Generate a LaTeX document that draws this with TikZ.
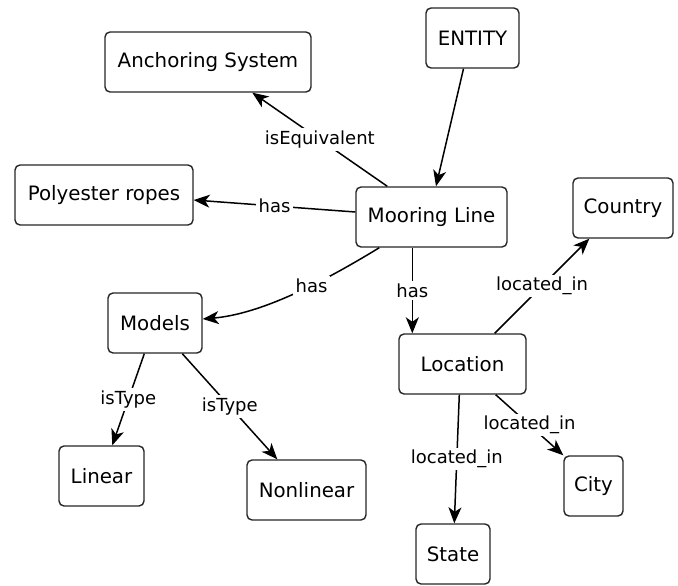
\documentclass[tikz,border=0pt]{standalone}
\usepackage{fontspec}
\setmainfont{DejaVu Sans}
\usetikzlibrary{arrows.meta}
\begin{document}
\begin{tikzpicture}[x=1pt,y=-1pt,
  box/.style={draw=black!85, line width=1.4pt, rounded corners=5pt, fill=white,
    minimum height=60pt, inner sep=0pt, font=\fontsize{19.8}{23}\selectfont},
  rel/.style={draw=black, line width=1.5pt, -{Stealth[length=16pt,width=13pt,inset=4.5pt]}},
  lab/.style={fill=white, inner sep=2.5pt, font=\fontsize{18}{21}\selectfont}]
\useasboundingbox (0,0) rectangle (678,586);
\node[box, minimum width=206pt] (anch) at (208,62) {Anchoring System};
\node[box, minimum width=93pt] (ent) at (472.5,38) {ENTITY};
\node[box, minimum width=178pt] (poly) at (104,195) {Polyester ropes};
\node[box, minimum width=151pt] (moor) at (431.5,217) {Mooring Line};
\node[box, minimum width=100pt] (ctry) at (623,208) {Country};
\node[box, minimum width=127pt] (loc) at (462.5,364) {Location};
\node[box, minimum width=94pt] (mod) at (155,323) {Models};
\node[box, minimum width=85pt] (lin) at (101.5,476) {Linear};
\node[box, minimum width=119pt] (nonl) at (306.5,490) {Nonlinear};
\node[box, minimum width=59pt] (city) at (593.5,486) {City};
\node[box, minimum width=74pt] (state) at (453,554) {State};

\draw[rel] ([xshift=32pt]moor.north west) -- node[lab]{isEquivalent} ([xshift=148pt]anch.south west);
\draw[rel] ([yshift=5pt]moor.west) -- node[lab]{has} ([yshift=-5pt]poly.east);
\draw[rel] ([xshift=-9pt]ent.south) -- ([xshift=4.5pt]moor.north);
\draw[rel] ([xshift=24pt]moor.south west) .. controls (320,284) and (260,314) .. node[lab,pos=0.38]{has} ([yshift=4pt]mod.east);
\draw[rel] ([xshift=57pt]moor.south west) -- node[lab]{has} ([xshift=14pt]loc.north west);
\draw[rel] ([xshift=-32pt]loc.north east) -- node[lab]{located\_in} ([xshift=17pt]ctry.south west);
\draw[rel] ([xshift=61pt]loc.south west) -- node[lab]{located\_in} ([xshift=39pt]state.north west);
\draw[rel] ([xshift=-31pt]loc.south east) -- node[lab]{located\_in} (city.north west);
\draw[rel] ([xshift=37pt]mod.south west) -- node[lab]{isType} ([xshift=54pt]lin.north west);
\draw[rel] ([xshift=75pt]mod.south west) -- node[lab]{isType} ([xshift=31pt]nonl.north west);
\end{tikzpicture}
\end{document}
